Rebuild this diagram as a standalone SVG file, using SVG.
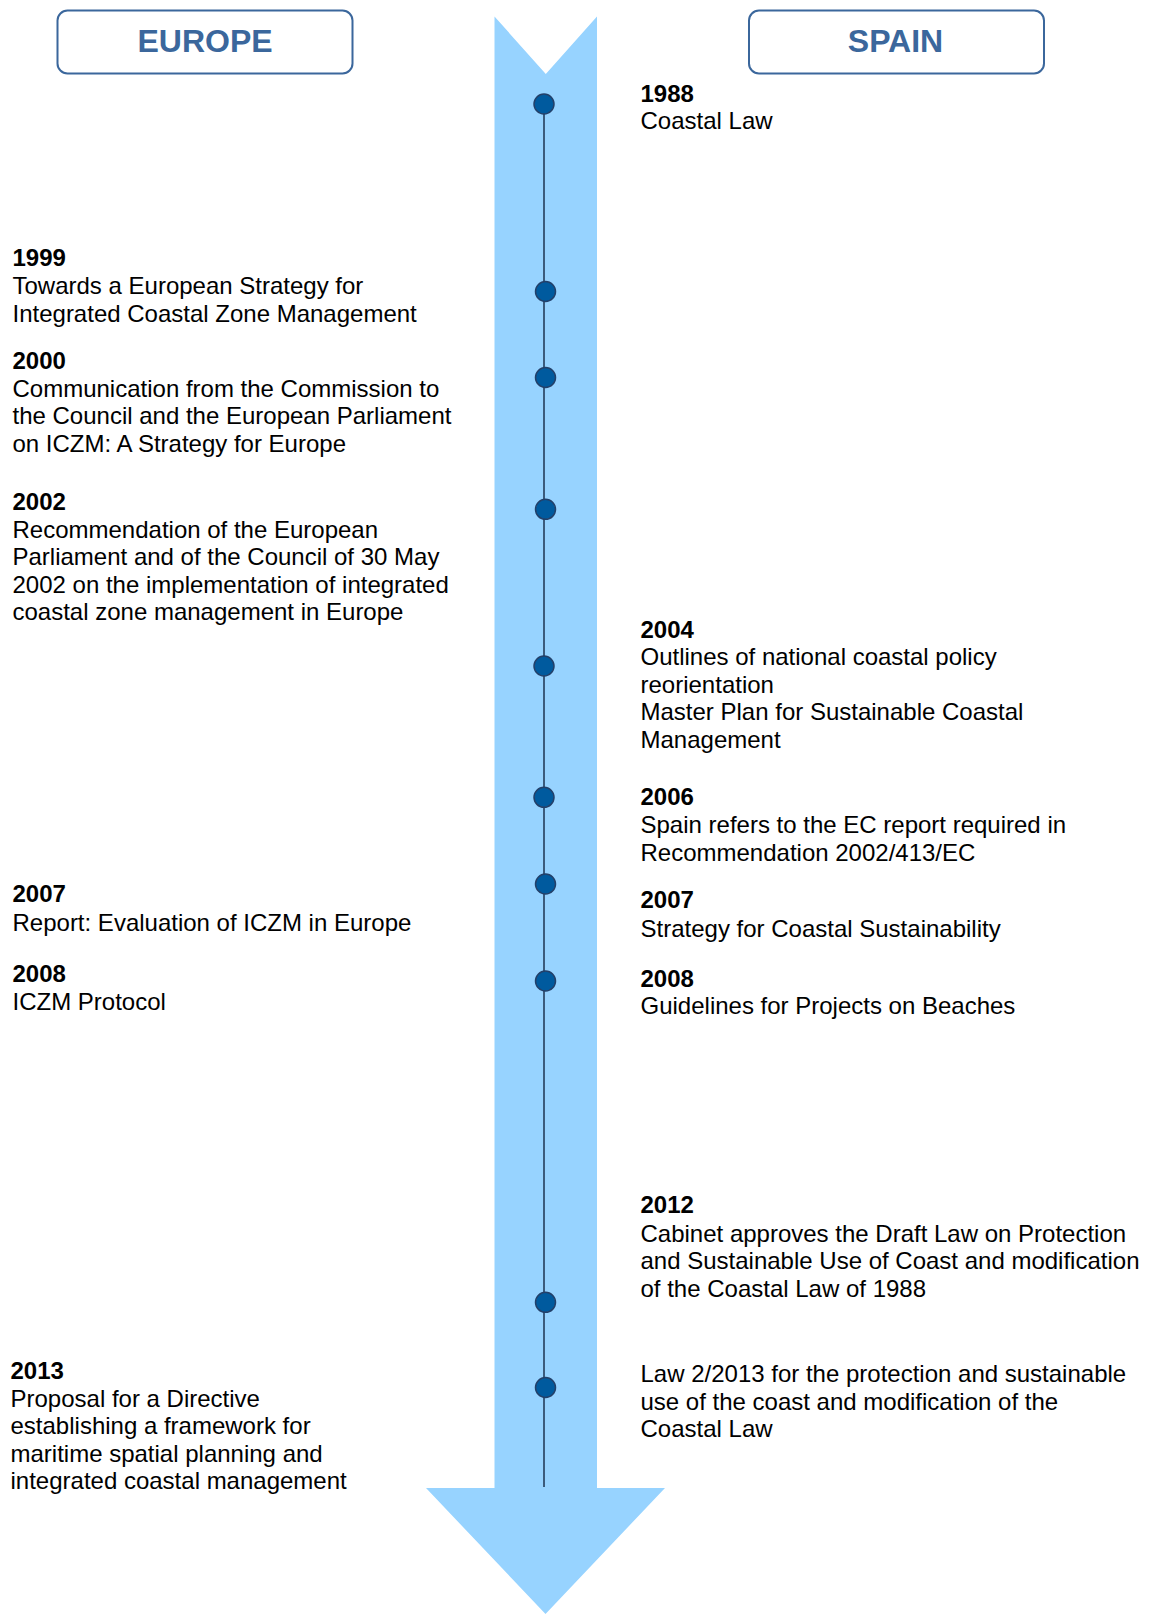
<svg xmlns="http://www.w3.org/2000/svg" width="1151" height="1614" viewBox="0 0 1151 1614">
<style>
.hdr{fill:#ffffff;stroke:#3b679c;stroke-width:2}
.hdrt{font-family:"Liberation Sans",Arial,sans-serif;font-weight:bold;font-size:32px;fill:#3b679c;text-anchor:middle}
.t{font-family:"Liberation Sans",Arial,sans-serif;font-size:24px;fill:#000000}
.y{font-weight:bold}
.dot{fill:#005a9e;stroke:#22406a;stroke-width:1.5}
.axis{stroke:#1c3350;stroke-width:1.5;fill:none}
</style>
<g id="arrow">
<polygon points="494.5,16.5 545.8,74 597,16.5 597,1488 665,1488 545.5,1614 426,1488 494.5,1488" fill="#97d3ff"/>
</g>
<g id="connectors">
<line class="axis" x1="544" y1="104" x2="544" y2="1487"/>
</g>
<g id="header-europe">
<rect class="hdr" x="57.5" y="10.5" width="295" height="63" rx="10"/>
<text class="hdrt" x="205" y="51.5">EUROPE</text>
</g>
<g id="header-spain">
<rect class="hdr" x="749" y="10.5" width="295" height="63" rx="10"/>
<text class="hdrt" x="895.5" y="51.5">SPAIN</text>
</g>
<g id="e1988">
<circle class="dot" cx="544" cy="104" r="10"/>
<text class="t" x="640.5" y="101.7"><tspan class="y">1988</tspan><tspan x="640.5" dy="27.7">Coastal Law</tspan></text>
</g>
<g id="e1999">
<circle class="dot" cx="545.5" cy="291.5" r="10"/>
<text class="t" x="12.5" y="266"><tspan class="y">1999</tspan><tspan x="12.5" dy="28">Towards a European Strategy for</tspan><tspan x="12.5" dy="27.6">Integrated Coastal Zone Management</tspan></text>
</g>
<g id="e2000">
<circle class="dot" cx="545.5" cy="377.5" r="10"/>
<text class="t" x="12.5" y="368.5"><tspan class="y">2000</tspan><tspan x="12.5" dy="28">Communication from the Commission to</tspan><tspan x="12.5" dy="27.7">the Council and the European Parliament</tspan><tspan x="12.5" dy="27.7">on ICZM: A Strategy for Europe</tspan></text>
</g>
<g id="e2002">
<circle class="dot" cx="545.5" cy="509.3" r="10"/>
<text class="t" x="12.5" y="510"><tspan class="y">2002</tspan><tspan x="12.5" dy="27.5">Recommendation of the European</tspan><tspan x="12.5" dy="27.5">Parliament and of the Council of 30 May</tspan><tspan x="12.5" dy="27.5">2002 on the implementation of integrated</tspan><tspan x="12.5" dy="27.5">coastal zone management in Europe</tspan></text>
</g>
<g id="e2004">
<circle class="dot" cx="544" cy="666" r="10"/>
<text class="t" x="640.5" y="637.7"><tspan class="y">2004</tspan><tspan x="640.5" dy="27.5">Outlines of national coastal policy</tspan><tspan x="640.5" dy="27.5">reorientation</tspan><tspan x="640.5" dy="27.5">Master Plan for Sustainable Coastal</tspan><tspan x="640.5" dy="27.5">Management</tspan></text>
</g>
<g id="e2006">
<circle class="dot" cx="544" cy="797.3" r="10"/>
<text class="t" x="640.5" y="805"><tspan class="y">2006</tspan><tspan x="640.5" dy="27.8">Spain refers to the EC report required in</tspan><tspan x="640.5" dy="27.8">Recommendation 2002/413/EC</tspan></text>
</g>
<g id="e2007">
<circle class="dot" cx="545.5" cy="884" r="10"/>
<text class="t" x="12.5" y="902.3"><tspan class="y">2007</tspan><tspan x="12.5" dy="28.2">Report: Evaluation of ICZM in Europe</tspan></text>
<text class="t" x="640.5" y="908.3"><tspan class="y">2007</tspan><tspan x="640.5" dy="28.3">Strategy for Coastal Sustainability</tspan></text>
</g>
<g id="e2008">
<circle class="dot" cx="545.5" cy="981" r="10"/>
<text class="t" x="12.5" y="982.3"><tspan class="y">2008</tspan><tspan x="12.5" dy="27.7">ICZM Protocol</tspan></text>
<text class="t" x="640.5" y="986.7"><tspan class="y">2008</tspan><tspan x="640.5" dy="27.5">Guidelines for Projects on Beaches</tspan></text>
</g>
<g id="e2012">
<circle class="dot" cx="545.5" cy="1302.3" r="10"/>
<text class="t" x="640.5" y="1213.3"><tspan class="y">2012</tspan><tspan x="640.5" dy="28.5">Cabinet approves the Draft Law on Protection</tspan><tspan x="640.5" dy="27.3">and Sustainable Use of Coast and modification</tspan><tspan x="640.5" dy="27.6">of the Coastal Law of 1988</tspan></text>
</g>
<g id="e2013">
<circle class="dot" cx="545.5" cy="1387.5" r="10"/>
<text class="t" x="10.5" y="1379"><tspan class="y">2013</tspan><tspan x="10.5" dy="27.7">Proposal for a Directive</tspan><tspan x="10.5" dy="27.7">establishing a framework for</tspan><tspan x="10.5" dy="27.6">maritime spatial planning and</tspan><tspan x="10.5" dy="27.3">integrated coastal management</tspan></text>
<text class="t" x="640.5" y="1382.3"><tspan>Law 2/2013 for the protection and sustainable</tspan><tspan x="640.5" dy="27.2">use of the coast and modification of the</tspan><tspan x="640.5" dy="27.5">Coastal Law</tspan></text>
</g>
</svg>
